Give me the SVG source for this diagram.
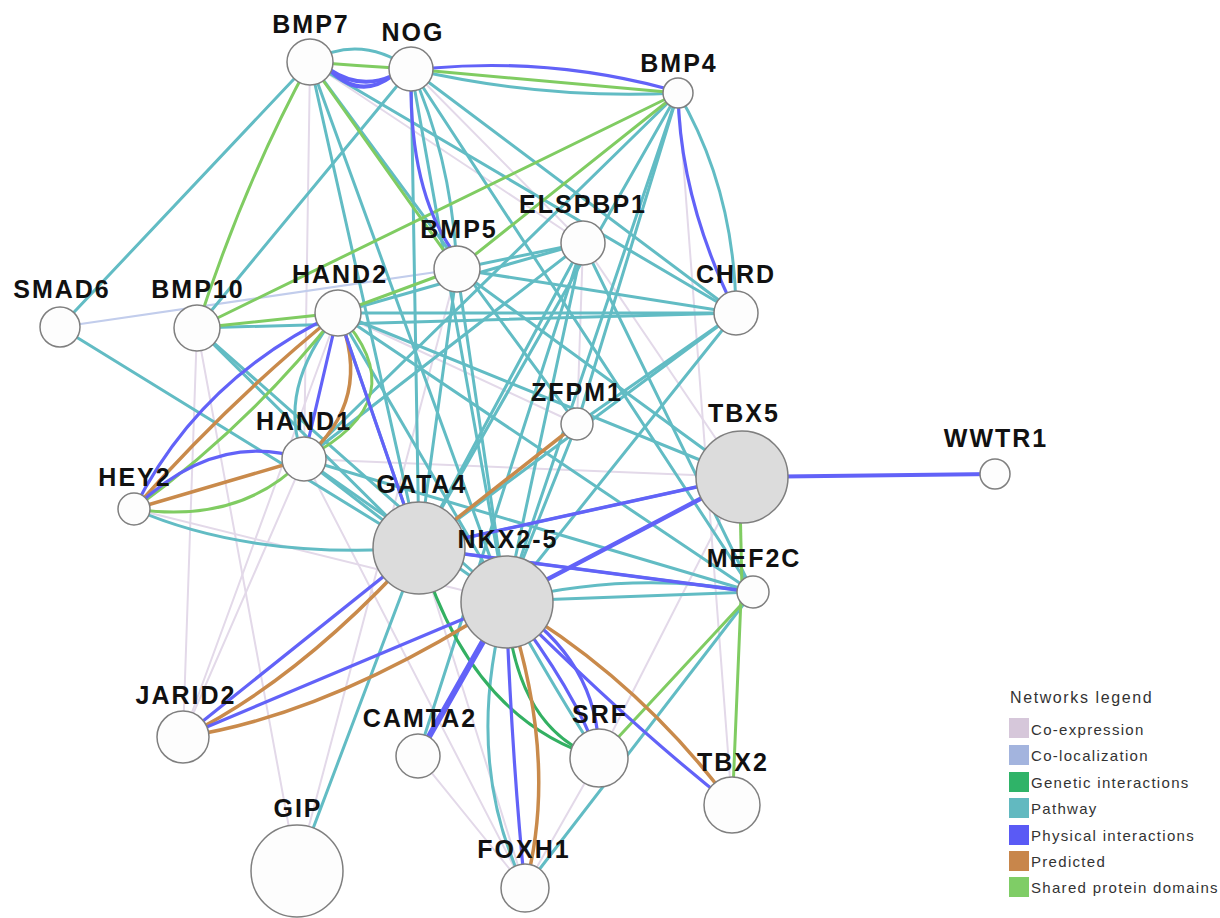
<svg xmlns="http://www.w3.org/2000/svg" width="1220" height="918" viewBox="0 0 1220 918">
<style>
.e{fill:none;stroke-linecap:round}
.ce{stroke:#e3d9e9;stroke-width:2}
.cl{stroke:#c2cdec;stroke-width:2.2}
.pw{stroke:#62bcc4;stroke-width:3}
.sd{stroke:#80cc62;stroke-width:3}
.gi{stroke:#33b062;stroke-width:3}
.pr{stroke:#c98a4b;stroke-width:3.5}
.pi{stroke:#6262f8;stroke-width:3.2}
.n{fill:#fdfdfd;stroke:#7f7f7f;stroke-width:1.5}
.g{fill:#dcdcdc;stroke:#7f7f7f;stroke-width:1.5}
.lb{font-family:"Liberation Sans",Arial,Helvetica,sans-serif;font-weight:bold;font-size:25px;letter-spacing:2px;fill:#111;text-anchor:middle}
.lt{font-family:"Liberation Sans",Arial,Helvetica,sans-serif;font-size:15px;letter-spacing:1.3px;fill:#333}
.lh{font-family:"Liberation Sans",Arial,Helvetica,sans-serif;font-size:16px;letter-spacing:1.6px;fill:#333}
</style>
<rect width="1220" height="918" fill="#ffffff"/>
<g id="connectors" class="e">
<!-- co-expression -->
<line class="ce" x1="310" y1="62" x2="304" y2="459"/>
<line class="ce" x1="197" y1="328" x2="183" y2="737"/>
<line class="ce" x1="197" y1="328" x2="297" y2="871"/>
<line class="ce" x1="297" y1="871" x2="457" y2="269"/>
<line class="ce" x1="338" y1="313" x2="183" y2="737"/>
<line class="ce" x1="134" y1="509" x2="506" y2="601"/>
<line class="ce" x1="304" y1="459" x2="742" y2="477"/>
<line class="ce" x1="418" y1="756" x2="525" y2="888"/>
<line class="ce" x1="419" y1="548" x2="525" y2="888"/>
<line class="ce" x1="599" y1="758" x2="525" y2="888"/>
<line class="ce" x1="742" y1="477" x2="599" y2="758"/>
<line class="ce" x1="678" y1="93" x2="732" y2="805"/>
<line class="ce" x1="583" y1="243" x2="577" y2="424"/>
<line class="ce" x1="583" y1="243" x2="742" y2="477"/>
<line class="ce" x1="411" y1="69" x2="583" y2="243"/>
<line class="ce" x1="310" y1="62" x2="583" y2="243"/>
<line class="ce" x1="338" y1="313" x2="577" y2="424"/>
<line class="ce" x1="183" y1="737" x2="577" y2="424"/>
<line class="ce" x1="304" y1="459" x2="183" y2="737"/>
<line class="ce" x1="304" y1="459" x2="525" y2="888"/>
<!-- co-localization -->
<line class="cl" x1="60" y1="327" x2="457" y2="269"/>
<!-- pathway -->
<path class="pw" d="M310,62 Q360,33 411,69"/>
<line class="pw" x1="310" y1="62" x2="60" y2="327"/>
<line class="pw" x1="310" y1="62" x2="419" y2="548"/>
<line class="pw" x1="310" y1="62" x2="506" y2="601"/>
<line class="pw" x1="310" y1="62" x2="736" y2="313"/>
<line class="pw" x1="310" y1="62" x2="577" y2="424"/>
<line class="pw" x1="411" y1="69" x2="197" y2="328"/>
<line class="pw" x1="411" y1="69" x2="419" y2="548"/>
<line class="pw" x1="411" y1="69" x2="506" y2="601"/>
<line class="pw" x1="411" y1="69" x2="736" y2="313"/>
<line class="pw" x1="411" y1="69" x2="753" y2="592"/>
<path class="pw" d="M411,69 Q452,160 457,269"/>
<path class="pw" d="M411,69 Q545,100 678,93"/>
<path class="pw" d="M678,93 Q735,190 736,313"/>
<line class="pw" x1="678" y1="93" x2="419" y2="548"/>
<line class="pw" x1="678" y1="93" x2="506" y2="601"/>
<line class="pw" x1="678" y1="93" x2="577" y2="424"/>
<line class="pw" x1="678" y1="93" x2="304" y2="459"/>
<line class="pw" x1="457" y1="269" x2="583" y2="243"/>
<line class="pw" x1="457" y1="269" x2="736" y2="313"/>
<line class="pw" x1="457" y1="269" x2="419" y2="548"/>
<line class="pw" x1="457" y1="269" x2="506" y2="601"/>
<line class="pw" x1="457" y1="269" x2="742" y2="477"/>
<line class="pw" x1="583" y1="243" x2="338" y2="313"/>
<line class="pw" x1="583" y1="243" x2="419" y2="548"/>
<line class="pw" x1="583" y1="243" x2="506" y2="601"/>
<line class="pw" x1="583" y1="243" x2="753" y2="592"/>
<line class="pw" x1="583" y1="243" x2="304" y2="459"/>
<line class="pw" x1="583" y1="243" x2="418" y2="756"/>
<line class="pw" x1="736" y1="313" x2="338" y2="313"/>
<line class="pw" x1="736" y1="313" x2="197" y2="328"/>
<line class="pw" x1="736" y1="313" x2="577" y2="424"/>
<line class="pw" x1="736" y1="313" x2="506" y2="601"/>
<line class="pw" x1="736" y1="313" x2="419" y2="548"/>
<line class="pw" x1="338" y1="313" x2="419" y2="548"/>
<line class="pw" x1="338" y1="313" x2="506" y2="601"/>
<line class="pw" x1="338" y1="313" x2="753" y2="592"/>
<line class="pw" x1="338" y1="313" x2="742" y2="477"/>
<path class="pw" d="M338,313 Q275,390 304,459"/>
<line class="pw" x1="304" y1="459" x2="419" y2="548"/>
<line class="pw" x1="304" y1="459" x2="506" y2="601"/>
<line class="pw" x1="304" y1="459" x2="753" y2="592"/>
<line class="pw" x1="60" y1="327" x2="419" y2="548"/>
<line class="pw" x1="197" y1="328" x2="419" y2="548"/>
<line class="pw" x1="197" y1="328" x2="506" y2="601"/>
<path class="pw" d="M134,509 Q250,560 419,548"/>
<line class="pw" x1="577" y1="424" x2="506" y2="601"/>
<line class="pw" x1="419" y1="548" x2="742" y2="477"/>
<line class="pw" x1="419" y1="548" x2="753" y2="592"/>
<line class="pw" x1="506" y1="601" x2="753" y2="592"/>
<path class="pw" d="M506,601 Q630,570 753,592"/>
<line class="pw" x1="506" y1="601" x2="742" y2="477"/>
<line class="pw" x1="419" y1="548" x2="297" y2="871"/>
<path class="pw" d="M506,601 Q462,760 525,888"/>
<path class="pw" d="M506,601 Q555,690 599,758"/>
<line class="pw" x1="753" y1="592" x2="525" y2="888"/>
<!-- shared protein domains -->
<path class="sd" d="M310,62 Q360,66 411,69"/>
<line class="sd" x1="411" y1="69" x2="678" y2="93"/>
<path class="sd" d="M310,62 Q245,180 197,328"/>
<line class="sd" x1="310" y1="62" x2="457" y2="269"/>
<line class="sd" x1="678" y1="93" x2="197" y2="328"/>
<line class="sd" x1="678" y1="93" x2="457" y2="269"/>
<line class="sd" x1="197" y1="328" x2="338" y2="313"/>
<line class="sd" x1="338" y1="313" x2="457" y2="269"/>
<path class="sd" d="M338,313 Q250,425 134,509"/>
<path class="sd" d="M338,313 Q420,400 304,459"/>
<path class="sd" d="M134,509 Q240,525 304,459"/>
<line class="sd" x1="740" y1="500" x2="742" y2="590"/>
<line class="sd" x1="741" y1="598" x2="733" y2="790"/>
<line class="sd" x1="753" y1="592" x2="599" y2="758"/>
<!-- genetic interactions -->
<path class="gi" d="M419,548 Q470,720 599,758"/>
<path class="gi" d="M506,601 Q515,730 599,758"/>
<!-- predicted -->
<path class="pr" d="M338,313 Q230,400 134,509"/>
<path class="pr" d="M338,313 Q375,400 304,459"/>
<line class="pr" x1="134" y1="509" x2="304" y2="459"/>
<line class="pr" x1="419" y1="548" x2="577" y2="424"/>
<path class="pr" d="M183,737 Q300,680 419,548"/>
<path class="pr" d="M183,737 Q330,715 506,601"/>
<path class="pr" d="M506,601 Q560,760 525,888"/>
<path class="pr" d="M506,601 Q640,680 732,805"/>
<!-- physical interactions -->
<path class="pi" style="stroke-width:4" d="M330,70 Q360,100 392,76"/>
<path class="pi" style="stroke-width:4" d="M330,70 Q360,90 392,76"/>
<path class="pi" d="M433,68 Q550,58 664,88"/>
<path class="pi" d="M411,80 Q410,190 452,250"/>
<path class="pi" d="M678,93 Q680,200 736,313"/>
<path class="pi" d="M338,313 Q200,377 134,509"/>
<line class="pi" x1="338" y1="313" x2="304" y2="459"/>
<line class="pi" x1="338" y1="313" x2="419" y2="548"/>
<path class="pi" d="M134,509 Q215,430 304,459"/>
<line class="pi" style="stroke-width:4" x1="742" y1="477" x2="995" y2="474"/>
<line class="pi" style="stroke-width:3.5" x1="742" y1="477" x2="419" y2="548"/>
<line class="pi" style="stroke-width:4.5" x1="742" y1="477" x2="506" y2="601"/>
<line class="pi" style="stroke-width:3.5" x1="419" y1="548" x2="753" y2="592"/>
<line class="pi" x1="183" y1="737" x2="419" y2="548"/>
<line class="pi" x1="183" y1="737" x2="506" y2="601"/>
<line class="pi" style="stroke-width:6" x1="418" y1="756" x2="506" y2="601"/>
<path class="pi" d="M506,601 Q512,760 525,888"/>
<path class="pi" d="M506,601 Q600,660 599,758"/>
<path class="pi" d="M506,601 Q575,690 599,758"/>
<path class="pi" d="M506,601 Q630,725 732,805"/>
</g>
<g id="node-BMP7"><circle class="n" cx="310" cy="62" r="23"/><text class="lb" x="311" y="33">BMP7</text></g>
<g id="node-NOG"><circle class="n" cx="411" cy="69" r="22"/><text class="lb" x="413" y="41">NOG</text></g>
<g id="node-BMP4"><circle class="n" cx="678" cy="93" r="15"/><text class="lb" x="679" y="72">BMP4</text></g>
<g id="node-ELSPBP1"><circle class="n" cx="583" cy="243" r="22"/><text class="lb" x="583" y="213">ELSPBP1</text></g>
<g id="node-BMP5"><circle class="n" cx="457" cy="269" r="23"/><text class="lb" x="459" y="238">BMP5</text></g>
<g id="node-CHRD"><circle class="n" cx="736" cy="313" r="22"/><text class="lb" x="736" y="283">CHRD</text></g>
<g id="node-SMAD6"><circle class="n" cx="60" cy="327" r="20"/><text class="lb" x="62" y="298">SMAD6</text></g>
<g id="node-BMP10"><circle class="n" cx="197" cy="328" r="23"/><text class="lb" x="198" y="298">BMP10</text></g>
<g id="node-HAND2"><circle class="n" cx="338" cy="313" r="23"/><text class="lb" x="340" y="283">HAND2</text></g>
<g id="node-HAND1"><circle class="n" cx="304" cy="459" r="22"/><text class="lb" x="304" y="430">HAND1</text></g>
<g id="node-HEY2"><circle class="n" cx="134" cy="509" r="16"/><text class="lb" x="135" y="486">HEY2</text></g>
<g id="node-ZFPM1"><circle class="n" cx="577" cy="424" r="16"/><text class="lb" x="577" y="401">ZFPM1</text></g>
<g id="node-WWTR1"><circle class="n" cx="995" cy="474" r="15"/><text class="lb" x="996" y="447">WWTR1</text></g>
<g id="node-TBX5"><circle class="g" cx="742" cy="477" r="46"/><text class="lb" x="744" y="422">TBX5</text></g>
<g id="node-MEF2C"><circle class="n" cx="753" cy="592" r="16"/><text class="lb" x="754" y="567">MEF2C</text></g>
<g id="node-GATA4"><circle class="g" cx="419" cy="548" r="46"/><text class="lb" x="422" y="493">GATA4</text></g>
<g id="node-NKX2-5"><circle class="g" cx="507" cy="602" r="46"/><text class="lb" x="508" y="548">NKX2-5</text></g>
<g id="node-JARID2"><circle class="n" cx="183" cy="737" r="26"/><text class="lb" x="186" y="704">JARID2</text></g>
<g id="node-CAMTA2"><circle class="n" cx="418" cy="756" r="22"/><text class="lb" x="420" y="727">CAMTA2</text></g>
<g id="node-SRF"><circle class="n" cx="599" cy="758" r="29"/><text class="lb" x="600" y="723">SRF</text></g>
<g id="node-TBX2"><circle class="n" cx="732" cy="805" r="28"/><text class="lb" x="733" y="771">TBX2</text></g>
<g id="node-GIP"><circle class="n" cx="297" cy="871" r="46"/><text class="lb" x="298" y="817">GIP</text></g>
<g id="node-FOXH1"><circle class="n" cx="525" cy="888" r="24"/><text class="lb" x="524" y="858">FOXH1</text></g>
<g id="legend">
<text class="lh" x="1010" y="703">Networks legend</text>
<rect x="1009" y="718" width="20" height="20" fill="#d6c7da"/><text class="lt" x="1031" y="735">Co-expression</text>
<rect x="1009" y="745" width="20" height="20" fill="#a3b4de"/><text class="lt" x="1031" y="761">Co-localization</text>
<rect x="1009" y="772" width="20" height="20" fill="#2fb368"/><text class="lt" x="1031" y="788">Genetic interactions</text>
<rect x="1009" y="798" width="20" height="20" fill="#62b9c0"/><text class="lt" x="1031" y="814">Pathway</text>
<rect x="1009" y="825" width="20" height="20" fill="#5a5af5"/><text class="lt" x="1031" y="841">Physical interactions</text>
<rect x="1009" y="851" width="20" height="20" fill="#c8864b"/><text class="lt" x="1031" y="867">Predicted</text>
<rect x="1009" y="877" width="20" height="20" fill="#7fcd66"/><text class="lt" x="1031" y="893">Shared protein domains</text>
</g>
</svg>
